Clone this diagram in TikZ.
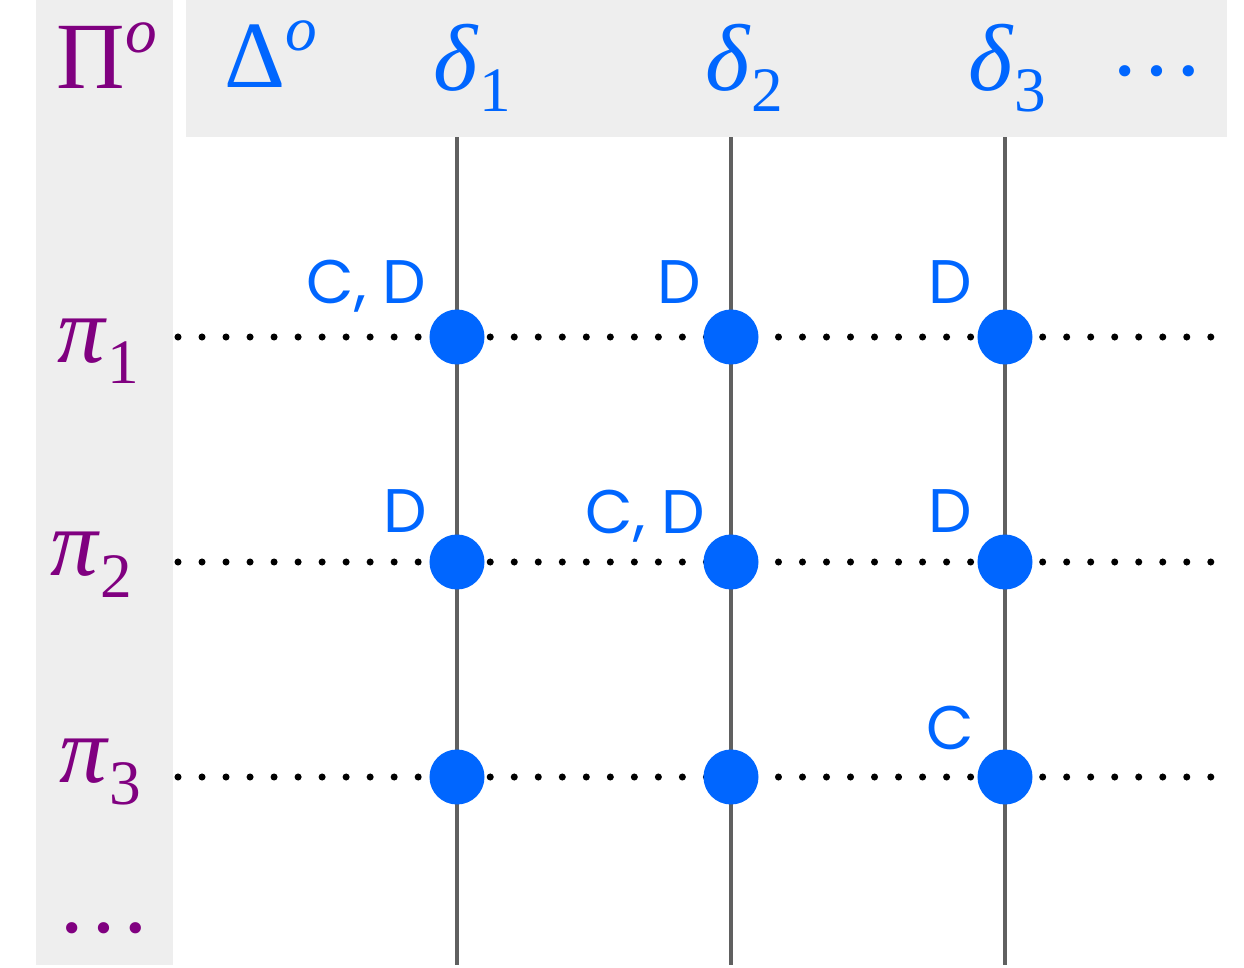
\documentclass[tikz,border=0pt]{standalone}
\usepackage{fontspec}
\setmainfont{Liberation Serif}
\newfontfamily\lblfont{Poppins}
\definecolor{ptblue}{HTML}{0066FF}
\definecolor{ptpurple}{HTML}{800080}
\definecolor{ptgray}{HTML}{EEEEEE}
\definecolor{ptline}{HTML}{606060}
\newcommand{\greek}[3]{\textit{#1}\raisebox{#3}{\fontsize{18}{18}\selectfont #2}}
\begin{document}
\begin{tikzpicture}[x=0.01cm, y=-0.01cm,
  greekhead/.style={inner sep=0pt, anchor=base west, font=\fontsize{27}{27}\selectfont},
  lbl/.style={inner sep=0pt, anchor=base east, text=ptblue, font=\lblfont\fontsize{17.5}{17.5}\selectfont},
  cell/.style={circle, fill=ptblue, inner sep=0pt, minimum size=0.55cm},
  column/.style={line width=1.15pt, ptline},
  rowline/.style={line width=2pt, line cap=round, dash pattern=on 0pt off 6.83pt}]
  % frame and gray headers
  \fill[white] (0,0) rectangle (1244,965);
  \fill[ptgray] (36,0) rectangle (173,965);
  \fill[ptgray] (186,0) rectangle (1227,137);
  % header texts
  \node[greekhead, text=ptpurple] (Pi) at (56,88) {Π\raisebox{10pt}{\fontsize{18}{18}\selectfont\itshape o}};
  \node[greekhead, text=ptblue] (Delta) at (224,87) {Δ\raisebox{10.5pt}{\fontsize{18}{18}\selectfont\itshape o}};
  \node[greekhead, text=ptblue] (d1) at (433,90) {\greek{δ}{1}{-6.2pt}};
  \node[greekhead, text=ptblue] (d2) at (705,90) {\greek{δ}{2}{-6.2pt}};
  \node[greekhead, text=ptblue] (d3) at (968,90) {\greek{δ}{3}{-6.2pt}};
  \node[greekhead, text=ptblue, anchor=base] (dmore) at (1157,75) {…};
  \node[greekhead, text=ptpurple] (p1) at (57,362) {\greek{π}{1}{-6pt}};
  \node[greekhead, text=ptpurple] (p2) at (50,575) {\greek{π}{2}{-6.5pt}};
  \node[greekhead, text=ptpurple] (p3) at (59,782) {\greek{π}{3}{-6.5pt}};
  \node[greekhead, text=ptpurple, anchor=base] (pmore) at (104,932) {…};
  % column and row ends
  \foreach \c/\x in {1/457, 2/731, 3/1005} {
    \coordinate (top\c) at (\x,137);
    \coordinate (bot\c) at (\x,965);
  }
  \foreach \r/\y in {1/337, 2/562, 3/777} {
    \coordinate (left\r) at (178,\y);
    \coordinate (right\r) at (1216,\y);
  }
  % dotted rows and solid columns
  \foreach \r in {1,2,3}
    \draw[rowline] (left\r) -- (right\r);
  \foreach \c in {1,2,3}
    \draw[column] (top\c) -- (bot\c);
  % cells
  \foreach \r/\y in {1/337, 2/562, 3/777}
    \foreach \c/\x in {1/457, 2/731, 3/1005}
      \node[cell] (c\r\c) at (\x,\y) {};
  % labels
  \node[lbl] at ([shift={(-30,-34)}]c11.center) {C, D};
  \node[lbl] at ([shift={(-29,-34)}]c12.center) {D};
  \node[lbl] at ([shift={(-32,-34)}]c13.center) {D};
  \node[lbl] at ([shift={(-29,-30)}]c21.center) {D};
  \node[lbl] at ([shift={(-25,-29)}]c22.center) {C, D};
  \node[lbl] at ([shift={(-32,-30)}]c23.center) {D};
  \node[lbl] at ([shift={(-30,-28)}]c33.center) {C};
\end{tikzpicture}
\end{document}
